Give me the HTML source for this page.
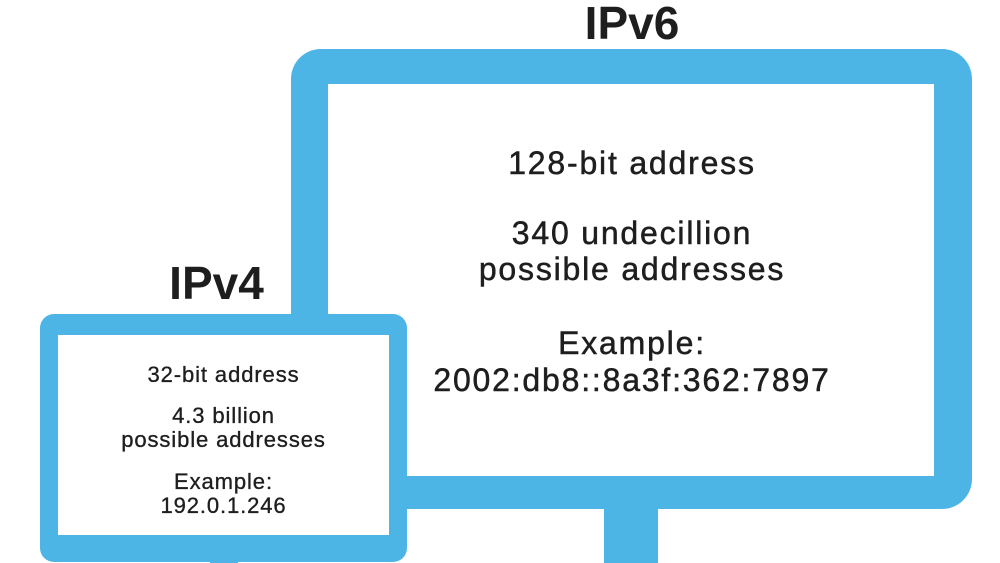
<!DOCTYPE html>
<html><head><style>
body{margin:0;width:1000px;height:563px;overflow:hidden;background:#fff;position:relative;font-family:"Liberation Sans",sans-serif;color:#1e1e1e}
.a{position:absolute}
.t{position:absolute;left:0;width:100%;text-align:center;white-space:nowrap}
.s{-webkit-text-stroke:0.5px #1e1e1e}
</style></head><body>
<div class="a" style="left:604px;top:500px;width:54px;height:63px;background:#4db5e6"></div>
<div class="a" style="left:291px;top:49px;width:681px;height:460px;background:#4db5e6;border-radius:30px"></div>
<div class="a" style="left:328px;top:84px;width:606px;height:392px;background:#fff"></div>
<div class="a" style="left:210px;top:550px;width:28px;height:13px;background:#4db5e6"></div>
<div class="a" style="left:40px;top:314px;width:367px;height:248px;background:#4db5e6;border-radius:14px"></div>
<div class="a" style="left:58px;top:335px;width:331px;height:200px;background:#fff"></div>

<div class="a" style="left:332px;top:0;width:600px;height:563px">
<div class="t" style="top:0px;font-size:46px;font-weight:bold;line-height:46px">IPv6</div>
<div class="t s" style="top:145px;font-size:32px;line-height:36px;letter-spacing:1.8px">128-bit address</div>
<div class="t s" style="top:215px;font-size:32px;line-height:36px;letter-spacing:1.8px">340 undecillion<br>possible addresses</div>
<div class="t s" style="top:325px;font-size:32px;line-height:37px;letter-spacing:1.8px">Example:<br>2002:db8::8a3f:362:7897</div>
</div>

<div class="a" style="left:66px;top:0;width:315px;height:563px">
<div class="t" style="top:260px;font-size:46px;font-weight:bold;line-height:46px;left:-7px">IPv4</div>
<div class="t s" style="top:363px;font-size:22px;line-height:24px;letter-spacing:0.9px;-webkit-text-stroke-width:0.35px">32-bit address</div>
<div class="t s" style="top:404px;font-size:22px;line-height:24px;letter-spacing:0.9px;-webkit-text-stroke-width:0.35px">4.3 billion<br>possible addresses</div>
<div class="t s" style="top:470px;font-size:22px;line-height:24px;letter-spacing:0.9px;-webkit-text-stroke-width:0.35px">Example:<br>192.0.1.246</div>
</div>
</body></html>
